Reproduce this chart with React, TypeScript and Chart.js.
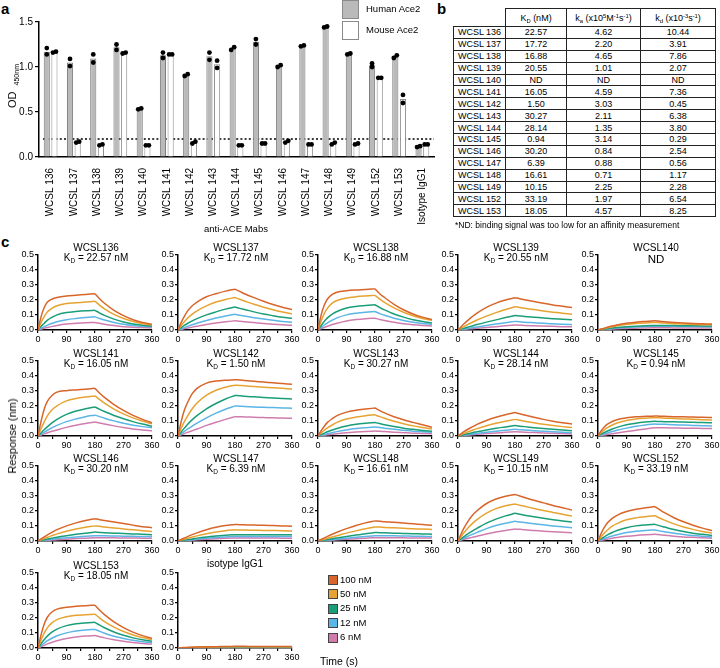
import React, { useEffect, useRef } from "react";
import { Chart, registerables } from "chart.js";

Chart.register(...registerables);

const FONT = "'Liberation Sans', Arial, Helvetica, sans-serif";
Chart.defaults.font.family = FONT;
Chart.defaults.color = "#000";

// ---------- Panel a : ELISA OD450 ----------
const barCategories = [
  "WCSL 136", "WCSL 137", "WCSL 138", "WCSL 139", "WCSL 140", "WCSL 141",
  "WCSL 142", "WCSL 143", "WCSL 144", "WCSL 145", "WCSL 146", "WCSL 147",
  "WCSL 148", "WCSL 149", "WCSL 152", "WCSL 153", "Isotype IgG1",
];
const humanAce2 = [1.17, 1.05, 1.095, 1.22, 0.535, 1.13, 0.91, 1.12, 1.205, 1.28, 1.01, 1.235, 1.445, 1.145, 1.02, 1.115, 0.115];
const mouseAce2 = [1.165, 0.165, 0.135, 1.155, 0.13, 1.14, 0.16, 1.03, 0.13, 0.15, 0.17, 0.14, 0.15, 0.145, 0.88, 0.645, 0.14];
const humanRep1 = [1.21, 1.09, 1.14, 1.25, 0.54, 1.16, 0.92, 1.16, 1.22, 1.31, 1.02, 1.24, 1.45, 1.15, 1.04, 1.13, 0.12];
const humanRep2 = [1.14, 1.01, 1.05, 1.19, 0.53, 1.10, 0.90, 1.08, 1.19, 1.25, 1.00, 1.23, 1.44, 1.14, 1.00, 1.10, 0.11];
const mouseRep1 = [1.17, 0.17, 0.14, 1.16, 0.13, 1.14, 0.17, 1.07, 0.13, 0.15, 0.18, 0.14, 0.16, 0.15, 0.88, 0.69, 0.14];
const mouseRep2 = [1.16, 0.16, 0.13, 1.15, 0.13, 1.14, 0.15, 0.99, 0.13, 0.15, 0.16, 0.14, 0.14, 0.14, 0.88, 0.60, 0.14];
const cutoffOD = 0.2;

// ---------- Panel b : table ----------
const tableNames = [
  "WCSL 136", "WCSL 137", "WCSL 138", "WCSL 139", "WCSL 140", "WCSL 141", "WCSL 142", "WCSL 143",
  "WCSL 144", "WCSL 145", "WCSL 146", "WCSL 147", "WCSL 148", "WCSL 149", "WCSL 152", "WCSL 153",
];
const tableKD = ["22.57", "17.72", "16.88", "20.55", "ND", "16.05", "1.50", "30.27", "28.14", "0.94", "30.20", "6.39", "16.61", "10.15", "33.19", "18.05"];
const tableKa = ["4.62", "2.20", "4.65", "1.01", "ND", "4.59", "3.03", "2.11", "1.35", "3.14", "0.84", "0.88", "0.71", "2.25", "1.97", "4.57"];
const tableKdiss = ["10.44", "3.91", "7.86", "2.07", "ND", "7.36", "0.45", "6.38", "3.80", "0.29", "2.54", "0.56", "1.17", "2.28", "6.54", "8.25"];

// ---------- Panel c : BLI sensorgrams ----------
const timePoints = [0, 10, 20, 30, 45, 60, 90, 120, 150, 180, 195, 210, 240, 270, 300, 330, 360];
const concLabels = ["100 nM", "50 nM", "25 nM", "12 nM", "6 nM"];
const concColors = ["#D8652A", "#E6A332", "#1A9E77", "#5BB5E6", "#D07DAE"];

const wcsl136 = [
  [0, 0.09, 0.15, 0.185, 0.205, 0.215, 0.225, 0.23, 0.235, 0.24, 0.205, 0.177, 0.13, 0.095, 0.068, 0.05, 0.037],
  [0, 0.05, 0.09, 0.12, 0.145, 0.16, 0.175, 0.18, 0.185, 0.19, 0.163, 0.14, 0.103, 0.076, 0.056, 0.042, 0.033],
  [0, 0.025, 0.045, 0.065, 0.085, 0.1, 0.115, 0.122, 0.127, 0.13, 0.112, 0.097, 0.072, 0.053, 0.04, 0.032, 0.027],
  [0, 0.012, 0.022, 0.032, 0.045, 0.055, 0.068, 0.076, 0.082, 0.087, 0.076, 0.066, 0.05, 0.038, 0.03, 0.025, 0.022],
  [0, 0.006, 0.012, 0.017, 0.024, 0.03, 0.039, 0.044, 0.048, 0.05, 0.044, 0.038, 0.029, 0.022, 0.018, 0.016, 0.015],
];
const wcsl137 = [
  [0, 0.05, 0.09, 0.125, 0.16, 0.185, 0.22, 0.24, 0.257, 0.27, 0.255, 0.24, 0.214, 0.19, 0.169, 0.151, 0.135],
  [0, 0.03, 0.055, 0.078, 0.105, 0.127, 0.16, 0.185, 0.202, 0.215, 0.203, 0.192, 0.17, 0.151, 0.134, 0.119, 0.106],
  [0, 0.015, 0.03, 0.043, 0.06, 0.075, 0.1, 0.12, 0.138, 0.152, 0.143, 0.136, 0.12, 0.106, 0.095, 0.085, 0.077],
  [0, 0.008, 0.016, 0.024, 0.035, 0.045, 0.063, 0.079, 0.093, 0.104, 0.098, 0.092, 0.081, 0.072, 0.064, 0.057, 0.051],
  [0, 0.004, 0.009, 0.013, 0.019, 0.025, 0.036, 0.046, 0.054, 0.061, 0.058, 0.055, 0.049, 0.043, 0.038, 0.034, 0.031],
];
const wcsl138 = [
  [0, 0.1, 0.165, 0.205, 0.235, 0.25, 0.26, 0.265, 0.268, 0.272, 0.24, 0.215, 0.17, 0.134, 0.106, 0.085, 0.07],
  [0, 0.06, 0.11, 0.145, 0.178, 0.195, 0.212, 0.22, 0.225, 0.229, 0.204, 0.183, 0.146, 0.117, 0.094, 0.076, 0.063],
  [0, 0.03, 0.058, 0.08, 0.105, 0.122, 0.145, 0.156, 0.162, 0.167, 0.148, 0.133, 0.106, 0.085, 0.068, 0.056, 0.047],
  [0, 0.017, 0.033, 0.047, 0.065, 0.08, 0.1, 0.111, 0.118, 0.122, 0.108, 0.097, 0.078, 0.063, 0.051, 0.043, 0.037],
  [0, 0.009, 0.017, 0.025, 0.036, 0.045, 0.06, 0.069, 0.075, 0.078, 0.07, 0.063, 0.051, 0.042, 0.035, 0.03, 0.026],
];
const wcsl139 = [
  [0, 0.022, 0.043, 0.062, 0.088, 0.112, 0.15, 0.178, 0.198, 0.213, 0.207, 0.2, 0.188, 0.177, 0.166, 0.157, 0.148],
  [0, 0.012, 0.024, 0.035, 0.051, 0.066, 0.092, 0.115, 0.135, 0.154, 0.149, 0.144, 0.135, 0.126, 0.118, 0.111, 0.104],
  [0, 0.006, 0.012, 0.018, 0.027, 0.036, 0.052, 0.067, 0.082, 0.096, 0.093, 0.09, 0.085, 0.08, 0.075, 0.071, 0.067],
  [0, 0.003, 0.007, 0.01, 0.015, 0.02, 0.03, 0.039, 0.048, 0.057, 0.055, 0.052, 0.048, 0.044, 0.041, 0.038, 0.036],
  [0, 0.002, 0.004, 0.006, 0.009, 0.012, 0.017, 0.022, 0.028, 0.033, 0.032, 0.03, 0.028, 0.026, 0.024, 0.022, 0.021],
];
const wcsl140 = [
  [0, 0.006, 0.012, 0.018, 0.026, 0.033, 0.044, 0.052, 0.057, 0.061, 0.058, 0.055, 0.05, 0.046, 0.043, 0.041, 0.039],
  [0, 0.005, 0.01, 0.015, 0.022, 0.028, 0.037, 0.043, 0.047, 0.05, 0.048, 0.046, 0.042, 0.039, 0.037, 0.035, 0.034],
  [0, 0.003, 0.006, 0.009, 0.013, 0.016, 0.021, 0.025, 0.028, 0.03, 0.03, 0.029, 0.029, 0.028, 0.028, 0.027, 0.027],
  [0, 0.002, 0.005, 0.007, 0.01, 0.013, 0.017, 0.02, 0.023, 0.025, 0.025, 0.024, 0.024, 0.023, 0.023, 0.022, 0.022],
  [0, 0.001, 0.003, 0.004, 0.006, 0.008, 0.01, 0.012, 0.014, 0.015, 0.015, 0.015, 0.014, 0.014, 0.014, 0.013, 0.013],
];
const wcsl141 = [
  [0, 0.1, 0.18, 0.23, 0.27, 0.29, 0.3, 0.305, 0.31, 0.315, 0.283, 0.255, 0.208, 0.169, 0.136, 0.11, 0.088],
  [0, 0.05, 0.095, 0.135, 0.175, 0.2, 0.232, 0.248, 0.258, 0.265, 0.24, 0.217, 0.178, 0.146, 0.12, 0.099, 0.08],
  [0, 0.022, 0.043, 0.062, 0.088, 0.11, 0.143, 0.165, 0.18, 0.192, 0.176, 0.162, 0.136, 0.114, 0.095, 0.079, 0.065],
  [0, 0.013, 0.026, 0.038, 0.055, 0.07, 0.095, 0.113, 0.128, 0.138, 0.128, 0.118, 0.1, 0.084, 0.071, 0.062, 0.055],
  [0, 0.007, 0.014, 0.021, 0.031, 0.04, 0.057, 0.071, 0.083, 0.093, 0.086, 0.079, 0.067, 0.056, 0.047, 0.04, 0.035],
];
const wcsl142 = [
  [0, 0.095, 0.17, 0.22, 0.28, 0.315, 0.35, 0.363, 0.369, 0.372, 0.37, 0.367, 0.362, 0.357, 0.352, 0.347, 0.342],
  [0, 0.051, 0.095, 0.132, 0.18, 0.218, 0.27, 0.303, 0.323, 0.336, 0.334, 0.332, 0.327, 0.323, 0.319, 0.315, 0.311],
  [0, 0.027, 0.052, 0.076, 0.108, 0.135, 0.18, 0.215, 0.245, 0.268, 0.266, 0.263, 0.259, 0.255, 0.252, 0.248, 0.245],
  [0, 0.015, 0.03, 0.045, 0.066, 0.085, 0.12, 0.151, 0.177, 0.199, 0.197, 0.195, 0.192, 0.19, 0.188, 0.186, 0.184],
  [0, 0.008, 0.016, 0.024, 0.035, 0.046, 0.07, 0.091, 0.11, 0.128, 0.127, 0.126, 0.124, 0.122, 0.12, 0.119, 0.117],
];
const wcsl143 = [
  [0, 0.035, 0.065, 0.09, 0.115, 0.135, 0.158, 0.17, 0.178, 0.185, 0.168, 0.153, 0.127, 0.107, 0.09, 0.074, 0.058],
  [0, 0.02, 0.038, 0.054, 0.073, 0.09, 0.112, 0.125, 0.134, 0.14, 0.128, 0.117, 0.097, 0.081, 0.067, 0.056, 0.046],
  [0, 0.01, 0.019, 0.028, 0.04, 0.05, 0.066, 0.077, 0.084, 0.089, 0.082, 0.075, 0.063, 0.052, 0.044, 0.037, 0.031],
  [0, 0.005, 0.01, 0.015, 0.022, 0.029, 0.04, 0.049, 0.055, 0.06, 0.056, 0.052, 0.044, 0.038, 0.032, 0.028, 0.024],
  [0, 0.003, 0.005, 0.008, 0.011, 0.015, 0.021, 0.026, 0.03, 0.033, 0.031, 0.029, 0.025, 0.022, 0.019, 0.017, 0.015],
];
const wcsl144 = [
  [0, 0.015, 0.03, 0.043, 0.06, 0.077, 0.103, 0.124, 0.141, 0.155, 0.147, 0.139, 0.124, 0.11, 0.098, 0.088, 0.079],
  [0, 0.009, 0.018, 0.026, 0.038, 0.049, 0.068, 0.084, 0.098, 0.11, 0.104, 0.098, 0.087, 0.077, 0.069, 0.062, 0.056],
  [0, 0.005, 0.01, 0.015, 0.022, 0.028, 0.04, 0.051, 0.06, 0.069, 0.065, 0.062, 0.055, 0.049, 0.044, 0.039, 0.035],
  [0, 0.003, 0.006, 0.009, 0.013, 0.017, 0.025, 0.032, 0.038, 0.044, 0.042, 0.04, 0.035, 0.031, 0.028, 0.025, 0.022],
  [0, 0.002, 0.004, 0.006, 0.008, 0.011, 0.016, 0.02, 0.024, 0.028, 0.027, 0.025, 0.023, 0.02, 0.018, 0.016, 0.014],
];
const wcsl145 = [
  [0, 0.035, 0.06, 0.078, 0.096, 0.108, 0.12, 0.127, 0.13, 0.132, 0.131, 0.13, 0.128, 0.127, 0.125, 0.124, 0.122],
  [0, 0.022, 0.04, 0.055, 0.073, 0.086, 0.103, 0.113, 0.118, 0.121, 0.12, 0.118, 0.116, 0.113, 0.111, 0.108, 0.106],
  [0, 0.012, 0.023, 0.033, 0.046, 0.057, 0.074, 0.085, 0.092, 0.097, 0.096, 0.095, 0.094, 0.092, 0.091, 0.089, 0.088],
  [0, 0.007, 0.014, 0.02, 0.03, 0.038, 0.052, 0.064, 0.073, 0.079, 0.078, 0.077, 0.075, 0.072, 0.07, 0.068, 0.066],
  [0, 0.003, 0.007, 0.01, 0.015, 0.02, 0.029, 0.038, 0.047, 0.055, 0.055, 0.054, 0.053, 0.052, 0.051, 0.05, 0.049],
];
const wcsl146 = [
  [0, 0.014, 0.028, 0.041, 0.059, 0.075, 0.1, 0.12, 0.135, 0.147, 0.141, 0.136, 0.126, 0.116, 0.105, 0.095, 0.088],
  [0, 0.008, 0.017, 0.025, 0.036, 0.047, 0.065, 0.079, 0.091, 0.1, 0.097, 0.093, 0.086, 0.08, 0.074, 0.068, 0.063],
  [0, 0.004, 0.009, 0.013, 0.019, 0.025, 0.035, 0.044, 0.052, 0.059, 0.057, 0.055, 0.052, 0.05, 0.047, 0.045, 0.042],
  [0, 0.002, 0.005, 0.008, 0.011, 0.015, 0.021, 0.027, 0.031, 0.035, 0.034, 0.034, 0.033, 0.032, 0.031, 0.03, 0.029],
  [0, 0.001, 0.003, 0.004, 0.006, 0.008, 0.012, 0.016, 0.019, 0.022, 0.022, 0.021, 0.021, 0.02, 0.02, 0.019, 0.019],
];
const wcsl147 = [
  [0, 0.01, 0.02, 0.029, 0.042, 0.054, 0.075, 0.091, 0.102, 0.109, 0.108, 0.107, 0.105, 0.104, 0.102, 0.1, 0.098],
  [0, 0.006, 0.012, 0.018, 0.026, 0.034, 0.048, 0.06, 0.068, 0.074, 0.073, 0.072, 0.071, 0.07, 0.069, 0.068, 0.066],
  [0, 0.003, 0.006, 0.01, 0.014, 0.019, 0.027, 0.033, 0.038, 0.042, 0.042, 0.042, 0.042, 0.041, 0.041, 0.041, 0.041],
  [0, 0.002, 0.004, 0.006, 0.009, 0.012, 0.018, 0.023, 0.027, 0.03, 0.03, 0.03, 0.03, 0.03, 0.029, 0.029, 0.029],
  [0, 0.001, 0.002, 0.004, 0.006, 0.008, 0.011, 0.015, 0.018, 0.02, 0.02, 0.02, 0.02, 0.02, 0.02, 0.019, 0.019],
];
const wcsl148 = [
  [0, 0.011, 0.021, 0.031, 0.045, 0.058, 0.082, 0.103, 0.12, 0.133, 0.131, 0.128, 0.124, 0.119, 0.114, 0.109, 0.104],
  [0, 0.006, 0.012, 0.018, 0.027, 0.035, 0.052, 0.067, 0.081, 0.093, 0.092, 0.09, 0.087, 0.084, 0.081, 0.079, 0.076],
  [0, 0.003, 0.007, 0.01, 0.015, 0.02, 0.03, 0.039, 0.048, 0.056, 0.055, 0.054, 0.052, 0.05, 0.048, 0.047, 0.045],
  [0, 0.002, 0.004, 0.006, 0.009, 0.012, 0.018, 0.024, 0.03, 0.035, 0.035, 0.034, 0.034, 0.033, 0.032, 0.031, 0.03],
  [0, 0.001, 0.002, 0.004, 0.006, 0.008, 0.011, 0.015, 0.019, 0.022, 0.022, 0.021, 0.021, 0.021, 0.02, 0.02, 0.02],
];
const wcsl149 = [
  [0, 0.048, 0.09, 0.125, 0.168, 0.2, 0.248, 0.278, 0.296, 0.308, 0.298, 0.288, 0.269, 0.252, 0.235, 0.22, 0.205],
  [0, 0.03, 0.058, 0.083, 0.115, 0.142, 0.184, 0.214, 0.233, 0.245, 0.237, 0.23, 0.215, 0.201, 0.189, 0.177, 0.165],
  [0, 0.016, 0.031, 0.046, 0.066, 0.084, 0.118, 0.145, 0.166, 0.183, 0.177, 0.171, 0.16, 0.15, 0.141, 0.133, 0.125],
  [0, 0.01, 0.02, 0.03, 0.044, 0.057, 0.082, 0.103, 0.118, 0.13, 0.126, 0.122, 0.114, 0.107, 0.1, 0.094, 0.088],
  [0, 0.006, 0.011, 0.016, 0.024, 0.031, 0.046, 0.059, 0.07, 0.079, 0.077, 0.074, 0.07, 0.065, 0.061, 0.058, 0.055],
];
const wcsl152 = [
  [0, 0.05, 0.09, 0.12, 0.15, 0.17, 0.195, 0.21, 0.22, 0.228, 0.207, 0.187, 0.154, 0.127, 0.104, 0.085, 0.07],
  [0, 0.028, 0.053, 0.073, 0.098, 0.115, 0.14, 0.153, 0.161, 0.167, 0.152, 0.138, 0.113, 0.093, 0.077, 0.063, 0.052],
  [0, 0.014, 0.028, 0.04, 0.056, 0.069, 0.088, 0.1, 0.106, 0.11, 0.1, 0.092, 0.076, 0.063, 0.052, 0.044, 0.037],
  [0, 0.008, 0.016, 0.023, 0.033, 0.042, 0.056, 0.065, 0.07, 0.073, 0.067, 0.061, 0.051, 0.043, 0.036, 0.031, 0.027],
  [0, 0.004, 0.008, 0.012, 0.018, 0.023, 0.031, 0.037, 0.041, 0.044, 0.041, 0.038, 0.032, 0.027, 0.024, 0.021, 0.019],
];
const wcsl153 = [
  [0, 0.09, 0.16, 0.205, 0.24, 0.257, 0.27, 0.276, 0.28, 0.283, 0.25, 0.221, 0.173, 0.135, 0.105, 0.082, 0.064],
  [0, 0.055, 0.1, 0.135, 0.168, 0.188, 0.207, 0.216, 0.22, 0.224, 0.198, 0.175, 0.138, 0.109, 0.086, 0.069, 0.056],
  [0, 0.03, 0.056, 0.08, 0.106, 0.125, 0.148, 0.16, 0.166, 0.17, 0.151, 0.134, 0.106, 0.084, 0.067, 0.054, 0.045],
  [0, 0.017, 0.033, 0.048, 0.066, 0.081, 0.1, 0.112, 0.119, 0.123, 0.11, 0.098, 0.078, 0.063, 0.051, 0.042, 0.036],
  [0, 0.009, 0.018, 0.027, 0.038, 0.048, 0.063, 0.073, 0.079, 0.083, 0.075, 0.067, 0.054, 0.044, 0.036, 0.03, 0.026],
];
const isotypeIgG1 = [
  [0, 0.002, 0.003, 0.004, 0.005, 0.006, 0.008, 0.009, 0.01, 0.011, 0.011, 0.011, 0.01, 0.01, 0.01, 0.01, 0.01],
  [0, 0.001, 0.002, 0.003, 0.004, 0.005, 0.006, 0.007, 0.008, 0.009, 0.009, 0.009, 0.009, 0.009, 0.009, 0.008, 0.008],
  [0, 0.001, 0.002, 0.002, 0.003, 0.004, 0.005, 0.006, 0.006, 0.007, 0.007, 0.007, 0.007, 0.007, 0.006, 0.006, 0.006],
  [0, 0.001, 0.001, 0.002, 0.002, 0.003, 0.004, 0.004, 0.005, 0.005, 0.005, 0.005, 0.005, 0.005, 0.005, 0.005, 0.005],
  [0, 0, 0.001, 0.001, 0.002, 0.002, 0.003, 0.003, 0.004, 0.004, 0.004, 0.004, 0.004, 0.004, 0.004, 0.004, 0.004],
];

const kineticPanels = [
  { name: "WCSL136", kd: tableKD[0], curves: wcsl136 },
  { name: "WCSL137", kd: tableKD[1], curves: wcsl137 },
  { name: "WCSL138", kd: tableKD[2], curves: wcsl138 },
  { name: "WCSL139", kd: tableKD[3], curves: wcsl139 },
  { name: "WCSL140", kd: tableKD[4], curves: wcsl140 },
  { name: "WCSL141", kd: tableKD[5], curves: wcsl141 },
  { name: "WCSL142", kd: tableKD[6], curves: wcsl142 },
  { name: "WCSL143", kd: tableKD[7], curves: wcsl143 },
  { name: "WCSL144", kd: tableKD[8], curves: wcsl144 },
  { name: "WCSL145", kd: tableKD[9], curves: wcsl145 },
  { name: "WCSL146", kd: tableKD[10], curves: wcsl146 },
  { name: "WCSL147", kd: tableKD[11], curves: wcsl147 },
  { name: "WCSL148", kd: tableKD[12], curves: wcsl148 },
  { name: "WCSL149", kd: tableKD[13], curves: wcsl149 },
  { name: "WCSL152", kd: tableKD[14], curves: wcsl152 },
  { name: "WCSL153", kd: tableKD[15], curves: wcsl153 },
  { name: "isotype IgG1", kd: "", curves: isotypeIgG1 },
];

// ---------- layout ----------
const COL_LEFT = [38, 178, 318, 458, 598];
const ROW_TOP = [254, 360, 465, 572];
const PLOT_W = 114;
const PLOT_H = 76;
const Y_AXIS_W = 24;
const PAD_TOP = 6;
const PAD_RIGHT = 10;
const X_AXIS_H = 15;

const BAR_CANVAS_H = 216;
const BAR_PAD_TOP = 12;
const BAR_PLOT_H = 135;

const cutoffPlugin = {
  id: "cutoffLine",
  beforeDatasetsDraw(chart: any) {
    const { ctx, chartArea, scales } = chart;
    const y = scales.y.getPixelForValue(cutoffOD);
    ctx.save();
    ctx.strokeStyle = "#000";
    ctx.lineWidth = 1.6;
    ctx.setLineDash([2, 2.2]);
    ctx.beginPath();
    ctx.moveTo(chartArea.left + 4, y);
    ctx.lineTo(chartArea.right, y);
    ctx.stroke();
    ctx.restore();
  },
};

const repDotsPlugin = {
  id: "repDots",
  afterDatasetsDraw(chart: any) {
    const { ctx, scales } = chart;
    const reps = [[humanRep1, humanRep2], [mouseRep1, mouseRep2]];
    ctx.save();
    ctx.fillStyle = "#000";
    reps.forEach((pair, di) => {
      const meta = chart.getDatasetMeta(di);
      meta.data.forEach((bar: any, j: number) => {
        const a = pair[0][j];
        const b = pair[1][j];
        const close = Math.abs(a - b) < 0.035;
        [a, b].forEach((v, k) => {
          const dx = close ? (k === 0 ? 1.5 : -1.5) : 0;
          ctx.beginPath();
          ctx.arc(bar.x + dx, scales.y.getPixelForValue(v), 2.4, 0, Math.PI * 2);
          ctx.fill();
        });
      });
    });
    ctx.restore();
  },
};

function makeBarChart(canvas: HTMLCanvasElement) {
  return new Chart(canvas, {
    type: "bar",
    data: {
      labels: barCategories,
      datasets: [
        {
          label: "Human Ace2",
          data: humanAce2,
          backgroundColor: "#bababa",
          borderColor: "#7c7c7c",
          borderWidth: 1,
          categoryPercentage: 0.66,
          barPercentage: 0.8,
        },
        {
          label: "Mouse Ace2",
          data: mouseAce2,
          backgroundColor: "#ffffff",
          borderColor: "#8c8c8c",
          borderWidth: 1,
          categoryPercentage: 0.66,
          barPercentage: 0.8,
        },
      ],
    },
    options: {
      animation: false,
      responsive: false,
      devicePixelRatio: 1,
      layout: { padding: { top: BAR_PAD_TOP, right: 6, left: 0, bottom: 0 } },
      plugins: { legend: { display: false }, tooltip: { enabled: false } },
      scales: {
        x: {
          grid: { display: false },
          border: { display: true, color: "#000", width: 1.5 },
          ticks: {
            autoSkip: false,
            minRotation: 90,
            maxRotation: 90,
            padding: 3,
            color: "#000",
            font: { size: 10, family: FONT },
          },
          afterFit: (s: any) => {
            s.height = BAR_CANVAS_H - BAR_PAD_TOP - BAR_PLOT_H;
          },
        },
        y: {
          min: 0,
          max: 1.5,
          ticks: {
            stepSize: 0.5,
            padding: 2,
            color: "#000",
            font: { size: 10, family: FONT },
            callback: (v: any) => Number(v).toFixed(1),
          },
          grid: { display: true, drawOnChartArea: false, drawTicks: true, tickLength: 4, color: "#000", lineWidth: 1.2 },
          border: { color: "#000", width: 1.5 },
          afterFit: (s: any) => {
            s.width = 39;
          },
        },
      },
    } as any,
    plugins: [cutoffPlugin, repDotsPlugin],
  });
}

function makeKineticChart(canvas: HTMLCanvasElement, curves: number[][]) {
  const split = timePoints.indexOf(180);
  const datasets: any[] = [];
  curves.forEach((curve, i) => {
    const pts = curve.map((v, j) => ({ x: timePoints[j], y: v }));
    const style = {
      borderColor: concColors[i],
      backgroundColor: concColors[i],
      borderWidth: 1.5,
      pointRadius: 0,
      fill: false,
      cubicInterpolationMode: "monotone",
    };
    datasets.push({ label: concLabels[i], data: pts.slice(0, split + 1), ...style });
    datasets.push({ label: concLabels[i], data: pts.slice(split), ...style });
  });
  return new Chart(canvas, {
    type: "line",
    data: { datasets },
    options: {
      animation: false,
      responsive: false,
      devicePixelRatio: 1,
      layout: { padding: { top: PAD_TOP, right: PAD_RIGHT, left: 0, bottom: 0 } },
      plugins: { legend: { display: false }, tooltip: { enabled: false } },
      scales: {
        x: {
          type: "linear",
          min: 0,
          max: 360,
          ticks: {
            stepSize: 45,
            autoSkip: false,
            maxRotation: 0,
            padding: 1,
            color: "#000",
            font: { size: 9, family: FONT },
            callback: (v: any) => (Number(v) % 90 === 0 ? String(v) : ""),
          },
          grid: { display: true, drawOnChartArea: false, tickLength: 3, color: "#000", lineWidth: 1.2 },
          border: { color: "#000", width: 1.5 },
          afterFit: (s: any) => {
            s.height = X_AXIS_H;
          },
        },
        y: {
          min: 0,
          max: 0.5,
          ticks: {
            stepSize: 0.1,
            padding: 1,
            color: "#000",
            font: { size: 9, family: FONT },
            callback: (v: any) => Number(v).toFixed(1),
          },
          grid: { display: true, drawOnChartArea: false, tickLength: 3, color: "#000", lineWidth: 1.2 },
          border: { color: "#000", width: 1.5 },
          afterFit: (s: any) => {
            s.width = Y_AXIS_W;
          },
        },
      },
    } as any,
  });
}

const abs = (extra: React.CSSProperties): React.CSSProperties => ({ position: "absolute", ...extra });

const subStyle: React.CSSProperties = { fontSize: "0.65em", position: "relative", top: "0.35em", lineHeight: 0 };
const supStyle: React.CSSProperties = { fontSize: "0.65em", position: "relative", top: "-0.45em", lineHeight: 0 };

export default function App() {
  const barRef = useRef<HTMLCanvasElement | null>(null);
  const kinRefs = useRef<(HTMLCanvasElement | null)[]>([]);

  useEffect(() => {
    const charts: Chart[] = [];
    if (barRef.current) charts.push(makeBarChart(barRef.current));
    kineticPanels.forEach((p, i) => {
      const c = kinRefs.current[i];
      if (c) charts.push(makeKineticChart(c, p.curves));
    });
    return () => charts.forEach((c) => c.destroy());
  }, []);

  const cellBorder = "1px solid #222";
  const tdStyle: React.CSSProperties = { border: cellBorder, padding: 0, textAlign: "center", height: 10.9, lineHeight: "10px" };

  return (
    <div
      style={{
        position: "fixed",
        left: 0,
        top: 0,
        width: 720,
        height: 668,
        background: "#fff",
        overflow: "hidden",
        fontFamily: FONT,
        color: "#000",
      }}
    >
      {/* panel letters */}
      <div style={abs({ left: 1, top: 0, fontSize: 15, fontWeight: "bold", lineHeight: "18px" })}>a</div>
      <div style={abs({ left: 437, top: 0, fontSize: 15, fontWeight: "bold", lineHeight: "18px" })}>b</div>
      <div style={abs({ left: 1, top: 233, fontSize: 15, fontWeight: "bold", lineHeight: "18px" })}>c</div>

      {/* ---- panel a ---- */}
      <canvas
        ref={barRef}
        width={440}
        height={BAR_CANVAS_H}
        style={abs({ left: 0, top: 22 - BAR_PAD_TOP, width: 440, height: BAR_CANVAS_H })}
      />
      <div
        style={abs({
          left: 12,
          top: 86,
          transform: "translate(-50%, -50%) rotate(-90deg)",
          whiteSpace: "nowrap",
          fontSize: 11,
        })}
      >
        OD <span style={{ fontSize: 7, position: "relative", top: 3, marginLeft: 3 }}>450nm</span>
      </div>
      <div style={abs({ left: 236, top: 228, transform: "translate(-50%, -50%)", fontSize: 9.5, whiteSpace: "nowrap" })}>
        anti-ACE Mabs
      </div>
      <div style={abs({ left: 342, top: 0, width: 15, height: 17, background: "#bababa", border: "1px solid #8a8a8a" })} />
      <div style={abs({ left: 342, top: 21, width: 15, height: 17, background: "#fff", border: "1px solid #8a8a8a" })} />
      <div style={abs({ left: 366, top: 3, fontSize: 9.5, lineHeight: "12px", whiteSpace: "nowrap" })}>Human Ace2</div>
      <div style={abs({ left: 366, top: 24, fontSize: 9.5, lineHeight: "12px", whiteSpace: "nowrap" })}>Mouse Ace2</div>

      {/* ---- panel b ---- */}
      <table
        style={abs({
          left: 453,
          top: 8,
          width: 262,
          borderCollapse: "collapse",
          tableLayout: "fixed",
          fontSize: 9,
          fontFamily: FONT,
        })}
      >
        <colgroup>
          <col style={{ width: 52 }} />
          <col style={{ width: 61 }} />
          <col style={{ width: 74 }} />
          <col style={{ width: 75 }} />
        </colgroup>
        <tbody>
          <tr style={{ height: 18 }}>
            <td style={{ border: "none", borderBottom: cellBorder, padding: 0 }}></td>
            <td style={{ ...tdStyle, height: 17 }}>
              K<span style={subStyle}>D</span> (nM)
            </td>
            <td style={{ ...tdStyle, height: 17 }}>
              k<span style={subStyle}>a</span> (x10<span style={supStyle}>5</span>M<span style={supStyle}>-1</span>s
              <span style={supStyle}>-1</span>)
            </td>
            <td style={{ ...tdStyle, height: 17 }}>
              k<span style={subStyle}>d</span> (x10<span style={supStyle}>-3</span>s<span style={supStyle}>-1</span>)
            </td>
          </tr>
          {tableNames.map((n, i) => (
            <tr key={n}>
              <td style={tdStyle}>{n}</td>
              <td style={tdStyle}>{tableKD[i]}</td>
              <td style={tdStyle}>{tableKa[i]}</td>
              <td style={tdStyle}>{tableKdiss[i]}</td>
            </tr>
          ))}
        </tbody>
      </table>
      <div style={abs({ left: 455, top: 220, fontSize: 8.5, lineHeight: "10px", whiteSpace: "nowrap" })}>
        *ND: binding signal was too low for an affinity measurement
      </div>

      {/* ---- panel c ---- */}
      {kineticPanels.map((p, i) => {
        const col = i % 5;
        const row = Math.floor(i / 5);
        const left = COL_LEFT[col];
        const top = ROW_TOP[row];
        return (
          <React.Fragment key={p.name}>
            <canvas
              ref={(el) => {
                kinRefs.current[i] = el;
              }}
              width={Y_AXIS_W + PLOT_W + PAD_RIGHT}
              height={PAD_TOP + PLOT_H + X_AXIS_H}
              style={abs({
                left: left - Y_AXIS_W,
                top: top - PAD_TOP,
                width: Y_AXIS_W + PLOT_W + PAD_RIGHT,
                height: PAD_TOP + PLOT_H + X_AXIS_H,
              })}
            />
            {p.kd === "" ? (
              <div style={abs({ left, top: top - 14, width: PLOT_W, textAlign: "center", fontSize: 10, lineHeight: "12px", whiteSpace: "nowrap" })}>
                {p.name}
              </div>
            ) : (
              <>
                <div style={abs({ left: left + 1, top: top - 12.5, width: PLOT_W, textAlign: "center", fontSize: 10, lineHeight: "12px", whiteSpace: "nowrap" })}>
                  {p.name}
                </div>
                {p.kd === "ND" ? (
                  <div style={abs({ left: left + 1, top: top - 1, width: PLOT_W, textAlign: "center", fontSize: 11.5, lineHeight: "13px" })}>
                    ND
                  </div>
                ) : (
                  <div style={abs({ left: left + 1, top: top - 2, width: PLOT_W, textAlign: "center", fontSize: 10, lineHeight: "12px", whiteSpace: "nowrap" })}>
                    K<span style={{ fontSize: 6.5, position: "relative", top: 2 }}>D</span> = {p.kd} nM
                  </div>
                )}
              </>
            )}
          </React.Fragment>
        );
      })}

      <div
        style={abs({
          left: 12,
          top: 436,
          transform: "translate(-50%, -50%) rotate(-90deg)",
          whiteSpace: "nowrap",
          fontSize: 11,
        })}
      >
        Response (nm)
      </div>
      <div style={abs({ left: 320, top: 655, fontSize: 10.5, lineHeight: "13px", whiteSpace: "nowrap" })}>Time (s)</div>

      {concLabels.map((lab, i) => (
        <React.Fragment key={lab}>
          <div
            style={abs({
              left: 328,
              top: 575 + i * 14.4,
              width: 8,
              height: 8,
              background: concColors[i],
              border: "1px solid #444",
            })}
          />
          <div style={abs({ left: 340, top: 573.5 + i * 14.4, fontSize: 9.5, lineHeight: "12px", whiteSpace: "nowrap" })}>{lab}</div>
        </React.Fragment>
      ))}
    </div>
  );
}
